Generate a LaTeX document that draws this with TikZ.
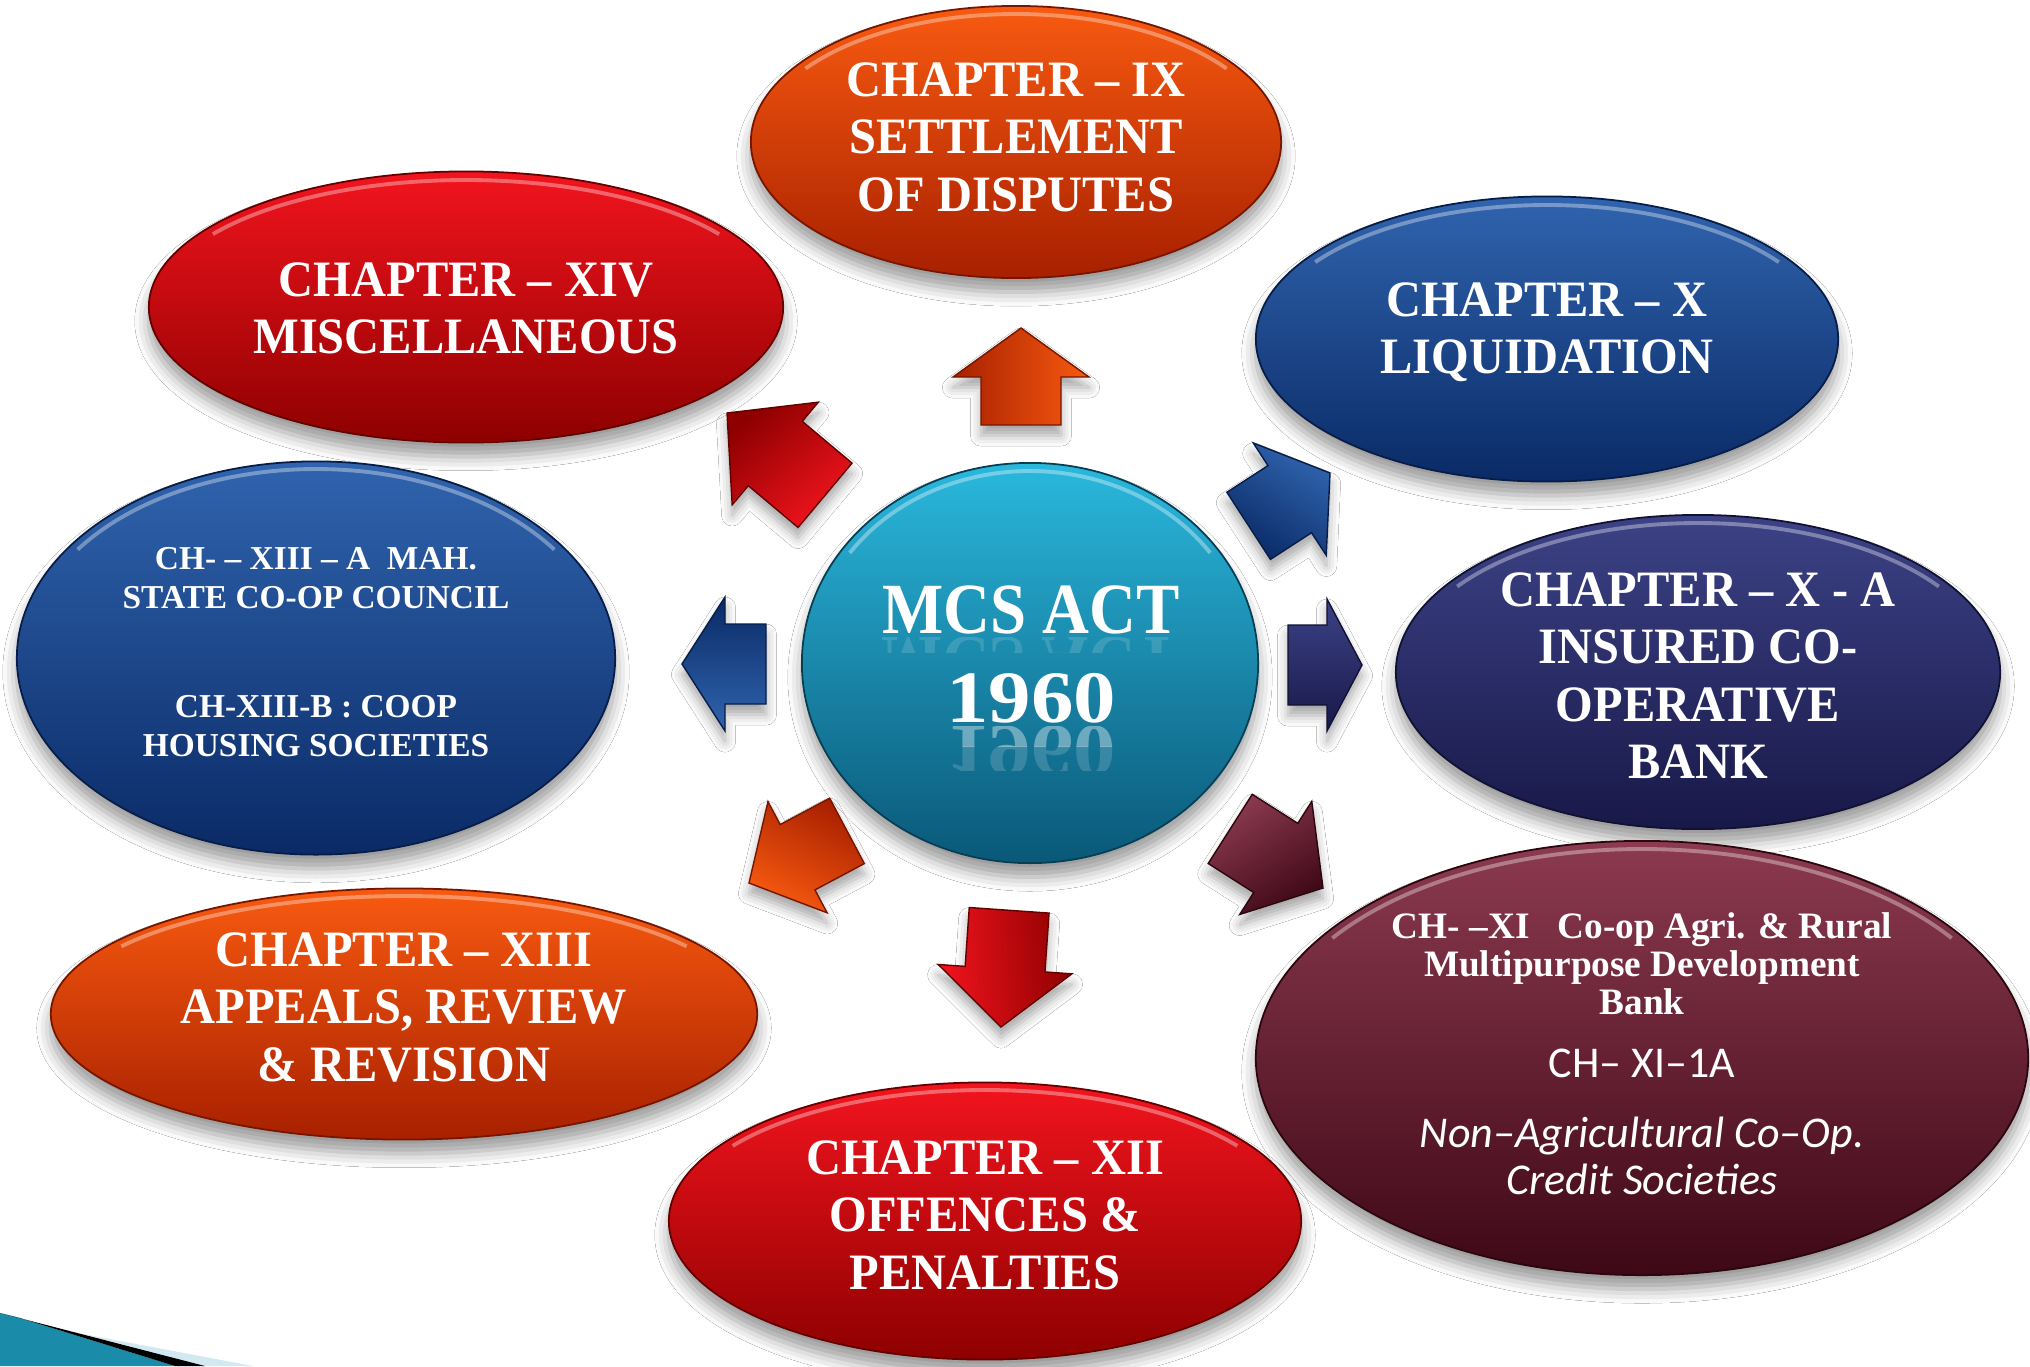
\documentclass[tikz,border=0pt]{standalone}
\usepackage{fontspec}
\setmainfont{Liberation Serif}
\newfontfamily\chapfont{Liberation Serif}[FakeStretch=0.95]
\newfontfamily\bigfont{Liberation Serif}[FakeStretch=0.9]
\newfontfamily\numfont{Liberation Serif}[FakeStretch=1.15]
\newfontfamily\smallfont{Liberation Serif}
\newfontfamily\calfont{Carlito}
\usetikzlibrary{shapes.geometric,shadows.blur}

\definecolor{orT}{HTML}{F85A10}\definecolor{orB}{HTML}{A82000}
\definecolor{rdT}{HTML}{F2141E}\definecolor{rdB}{HTML}{8E0000}
\definecolor{blT}{HTML}{3064AE}\definecolor{blB}{HTML}{0A2A66}
\definecolor{nvT}{HTML}{3C4286}\definecolor{nvB}{HTML}{181848}
\definecolor{mrT}{HTML}{8C3A50}\definecolor{mrB}{HTML}{3E0816}
\definecolor{tlT}{HTML}{2AB8DD}\definecolor{tlB}{HTML}{0A5878}
\definecolor{tealdeco}{HTML}{1A8CAA}
\definecolor{lightdeco}{HTML}{D2E9F2}

\newcommand\blockarr[9]{%
  \begin{scope}[shift={(#2,#3)}, rotate=#4]
    \shade[top color=#9T, bottom color=#9B, shading angle={0-(#4)}, draw=#9B!70!black, line width=0.4pt,
      blur shadow={shadow xshift=0pt,shadow yshift=-3pt,shadow blur radius=3pt,shadow opacity=35}]
      (0,0) coordinate (#1) -- (-#6,#8) -- (-#6,#7) -- (-#5,#7) -- (-#5,-#7) -- (-#6,-#7) -- (-#6,-#8) -- cycle;
  \end{scope}}

\newcommand\gloss[4]{%
  \draw[white, opacity=0.35, line width=1.1pt] (#1,#2) ++(215:{#3} and {#4})
    arc[start angle=215, end angle=325, x radius=#3, y radius=#4];}

\begin{document}
\begin{tikzpicture}[x=0.01cm,y=-0.01cm,
  ell/.style 2 args={ellipse, inner sep=0pt, top color=#1, bottom color=#2, draw=#2!70!black, line width=0.5pt,
     blur shadow={shadow xshift=0pt, shadow yshift=-4pt, shadow blur radius=4pt, shadow opacity=40}},
  chap/.style={text=white, align=center, inner sep=0pt, anchor=north,
     font=\chapfont\bfseries\fontsize{14.5}{16.3}\selectfont},
  smalltxt/.style={text=white, align=center, inner sep=0pt, anchor=north,
     font=\smallfont\bfseries\fontsize{9.5}{10.9}\selectfont},
  midtxt/.style={text=white, align=center, inner sep=0pt, anchor=north,
     font=\smallfont\bfseries\fontsize{10.6}{10.8}\selectfont},
  caltxt/.style={text=white, align=center, inner sep=0pt, anchor=north,
     font=\calfont\fontsize{12.5}{13.3}\selectfont},
  bigtxt/.style={text=white, align=center, inner sep=0pt,
     font=\bigfont\bfseries\fontsize{20.5}{25.3}\selectfont},
  numtxt/.style={text=white, align=center, inner sep=0pt,
     font=\numfont\bfseries\fontsize{21}{25.3}\selectfont}]
\useasboundingbox (0,0) rectangle (2030,1366);
\fill[white] (0,0) rectangle (2030,1366);

% bottom-left decoration
\fill[lightdeco] (83,1334) -- (253,1366) -- (205,1366) -- cycle;
\fill[tealdeco] (0,1313) -- (20,1318) -- (175,1366) -- (0,1366) -- cycle;
\fill[black] (0,1313) -- (205,1366) -- (175,1366) -- (20,1318) -- cycle;

% ellipses
\node[ell={orT}{orB}, minimum width=5.30cm, minimum height=2.72cm] (e9) at (1016,142) {};
\node[ell={rdT}{rdB}, minimum width=6.34cm, minimum height=2.71cm] (e14) at (466,307) {};
\node[ell={blT}{blB}, minimum width=5.82cm, minimum height=2.85cm] (e10) at (1547,339) {};
\node[ell={blT}{blB}, minimum width=5.98cm, minimum height=3.93cm] (e13a) at (316,658) {};
\node[ell={tlT}{tlB}, minimum width=4.56cm, minimum height=4.00cm] (ec) at (1030,663) {};
\node[ell={nvT}{nvB}, minimum width=6.04cm, minimum height=3.14cm] (e10a) at (1698,672) {};
\node[ell={orT}{orB}, minimum width=7.06cm, minimum height=2.51cm] (e13) at (404,1014) {};
\node[ell={rdT}{rdB}, minimum width=6.32cm, minimum height=2.77cm] (e12) at (985,1221) {};
\node[ell={mrT}{mrB}, minimum width=7.72cm, minimum height=4.34cm] (e11) at (1642,1058) {};

\gloss{1016}{142}{257}{128}
\gloss{466}{307}{309}{127}
\gloss{1547}{339}{283}{134}
\gloss{316}{658}{291}{189}
\gloss{1030}{663}{220}{192}
\gloss{1698}{672}{294}{149}
\gloss{404}{1014}{345}{118}
\gloss{985}{1221}{308}{131}
\gloss{1642}{1058}{378}{209}

% texts
\node[chap] (t9) at (1016,62) {CHAPTER – IX\\SETTLEMENT\\OF DISPUTES};
\node[chap] (t14) at (466,262) {CHAPTER – XIV\\MISCELLANEOUS};
\node[chap] (t10) at (1547,282) {CHAPTER – X\\LIQUIDATION};
\node[chap] (t10a) at (1698,572) {CHAPTER – X - A\\INSURED CO-\\OPERATIVE\\BANK};
\node[chap] (t13) at (404,932) {CHAPTER – XIII\\APPEALS, REVIEW\\\& REVISION};
\node[chap] (t12) at (985,1140) {CHAPTER – XII\\OFFENCES \&\\PENALTIES};
\node[smalltxt] (t13a) at (316,547) {CH- – XIII – A\ \ MAH.\\STATE CO-OP COUNCIL\\[20.3pt]CH-XIII-B : COOP\\HOUSING SOCIETIES};
\node[midtxt] (t11a) at (1642,912) {CH- –XI\ \ \ Co-op Agri. \& Rural\\Multipurpose Development\\Bank};
\node[caltxt] (t11b) at (1642,1048) {CH– XI–1A};
\node[caltxt, font=\calfont\itshape\fontsize{12.5}{13.3}\selectfont] (t11c) at (1642,1116) {Non–Agricultural Co–Op.\\Credit Societies};

% centre
\begin{scope}
  \clip (800,637) rectangle (1260,652);
  \node[bigtxt, transform shape, yscale=-1, anchor=base, opacity=0.14] (rmcs) at (1030,637) {MCS ACT};
\end{scope}
\begin{scope}
  \clip (800,726) rectangle (1260,746);
  \node[numtxt, transform shape, yscale=-1, anchor=base, opacity=0.38] (r1960a) at (1031,726) {1960};
\end{scope}
\begin{scope}
  \clip (800,746) rectangle (1260,770);
  \node[numtxt, transform shape, yscale=-1, anchor=base, opacity=0.16] (r1960b) at (1031,726) {1960};
\end{scope}
\node[bigtxt, anchor=base] (tc) at (1031,633) {MCS ACT};
\node[numtxt, anchor=base] (tn) at (1031,722) {1960};

% block arrows: name, tip x, tip y, angle, length, head length, shaft half, head half, colour
\blockarr{a9}{1021}{328}{90}{97}{49}{40}{68}{or}
\blockarr{a14}{727}{413}{140}{128}{63}{42}{67}{rd}
\blockarr{a10}{1330}{473}{33}{97}{48}{40}{67}{bl}
\blockarr{a13a}{682}{664}{180}{84}{43}{40}{67}{bl}
\blockarr{a10a}{1362}{665}{0}{74}{35}{40}{66}{nv}
\blockarr{a13}{749}{883}{208}{111}{55}{37}{63}{or}
\blockarr{a12}{1001}{1027}{-94}{117}{58}{40}{67}{rd}
\blockarr{a11}{1323}{888}{-32.5}{110}{56}{41}{67}{mr}
\end{tikzpicture}
\end{document}
